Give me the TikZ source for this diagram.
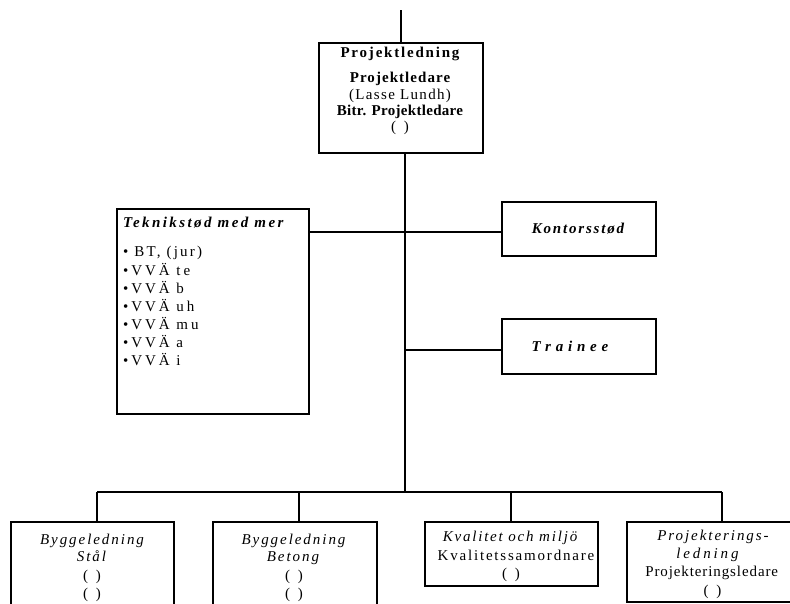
\documentclass[tikz,border=0pt]{standalone}
\usepackage{fontspec}
\setmainfont{Liberation Serif}
\newcommand{\lsp}[2]{{\addfontfeature{LetterSpace=#1}#2}}
\begin{document}
\begin{tikzpicture}[x=1pt,y=-1pt,
  box/.style={draw, line width=1.1pt, inner sep=0pt, outer sep=0pt},
  ln/.style={line width=1.1pt},
  txt/.style={inner sep=0pt, outer sep=0pt, anchor=base, font=\fontsize{15}{17}\selectfont},
  txtb/.style={txt, font=\fontsize{15}{17}\selectfont\bfseries},
  txti/.style={txt, font=\fontsize{15}{17}\selectfont\itshape},
  txtbi/.style={txt, font=\fontsize{15}{17}\selectfont\bfseries\itshape}]
\useasboundingbox (0,0) rectangle (790,603);
\clip (0,0) rectangle (790,603);
% boxes
\node[box, minimum width=164pt, minimum height=110pt] (pl) at (401,98) {};
\node[box, minimum width=192pt, minimum height=205pt] (tek) at (213,311.5) {};
\node[box, minimum width=154pt, minimum height=54pt] (kon) at (579,229) {};
\node[box, minimum width=154pt, minimum height=55pt] (tra) at (579,346.5) {};
\node[box, minimum width=163pt, minimum height=93pt] (b1) at (92.5,568.5) {};
\node[box, minimum width=164pt, minimum height=93pt] (b2) at (295,568.5) {};
\node[box, minimum width=173pt, minimum height=64pt] (b3) at (511.5,554) {};
\node[box, minimum width=203pt, minimum height=80pt] (b4) at (728.5,562) {};
% connectors
\coordinate (top) at (401,10);
\coordinate (bus) at (405,492);
\coordinate (jt) at (405,232);
\coordinate (jr) at (405,350);
\coordinate (bl) at (97,492);
\coordinate (bm) at (299,492);
\coordinate (bk) at (511,492);
\coordinate (br) at (722,492);
\draw[ln] (top) -- (pl.north);
\draw[ln] (pl.south -| bus) -- (bus);
\draw[ln] (tek.east |- jt) -- (jt) -- (kon.west |- jt);
\draw[ln] (jr) -- (tra.west |- jr);
\draw[ln] (bl) -- (br);
\draw[ln] (bl) -- (b1.north -| bl);
\draw[ln] (bm) -- (b2.north -| bm);
\draw[ln] (bk) -- (b3.north -| bk);
\draw[ln] (br) -- (b4.north -| br);
% Projektledning
\node[txtb] (pl1) at (400,57.3) {\lsp{12}{Projektledning}};
\node[txtb] (pl2) at (400,82.7) {\lsp{7}{Projektledare}};
\node[txt] (pl3) at (400,99) {\lsp{9}{(Lasse Lundh)}};
\node[txtb] (pl4) at (400,115) {\lsp{2}{Bitr. Projektledare}};
\node[txt] (pl5) at (400,131.7) {\lsp{28}{( )}};
% Teknikstod
\node[txtbi, anchor=base west] (tk0) at (123,227) {\lsp{16}{Teknikstød med mer}};
\node[txt, anchor=base west] (tk1) at (123,256.7) {\lsp{15}{• BT, (jur)}};
\node[txt, anchor=base west] (tk2) at (123,275) {\lsp{20}{•VVÄ te}};
\node[txt, anchor=base west] (tk3) at (123,293.3) {\lsp{20}{•VVÄ b}};
\node[txt, anchor=base west] (tk4) at (123,311.7) {\lsp{20}{•VVÄ uh}};
\node[txt, anchor=base west] (tk5) at (123,329.3) {\lsp{20}{•VVÄ mu}};
\node[txt, anchor=base west] (tk6) at (123,347.7) {\lsp{20}{•VVÄ a}};
\node[txt, anchor=base west] (tk7) at (123,365.7) {\lsp{20}{•VVÄ i}};
% Kontorsstod, Trainee
\node[txtbi] (ko1) at (578,233.3) {\lsp{12}{Kontorsstød}};
\node[txtbi] (tr1) at (570,351.7) {\lsp{32}{Trainee}};
% bottom boxes
\node[txti] (s1) at (92,544) {\lsp{13}{Byggeledning}};
\node[txti] (s2) at (91.5,561.7) {\lsp{13}{Stål}};
\node[txt] (s3) at (92,580) {\lsp{28}{( )}};
\node[txt] (s4) at (92,598) {\lsp{28}{( )}};
\node[txti] (c1) at (293.5,544) {\lsp{13}{Byggeledning}};
\node[txti] (c2) at (293,561.7) {\lsp{13}{Betong}};
\node[txt] (c3) at (294,580) {\lsp{28}{( )}};
\node[txt] (c4) at (294,598) {\lsp{28}{( )}};
\node[txti] (k1) at (510,541.7) {\lsp{12}{Kvalitet och miljö}};
\node[txt] (k2) at (516,560) {\lsp{12}{Kvalitetssamordnare}};
\node[txt] (k3) at (511,578) {\lsp{28}{( )}};
\node[txti] (p1) at (713,540.7) {\lsp{13}{Projekterings-}};
\node[txti] (p2) at (707.5,558) {\lsp{19}{ledning}};
\node[txt] (p3) at (711.7,576.7) {\lsp{6}{Projekteringsledare}};
\node[txt] (p4) at (712.5,595) {\lsp{28}{( )}};
\end{tikzpicture}
\end{document}
